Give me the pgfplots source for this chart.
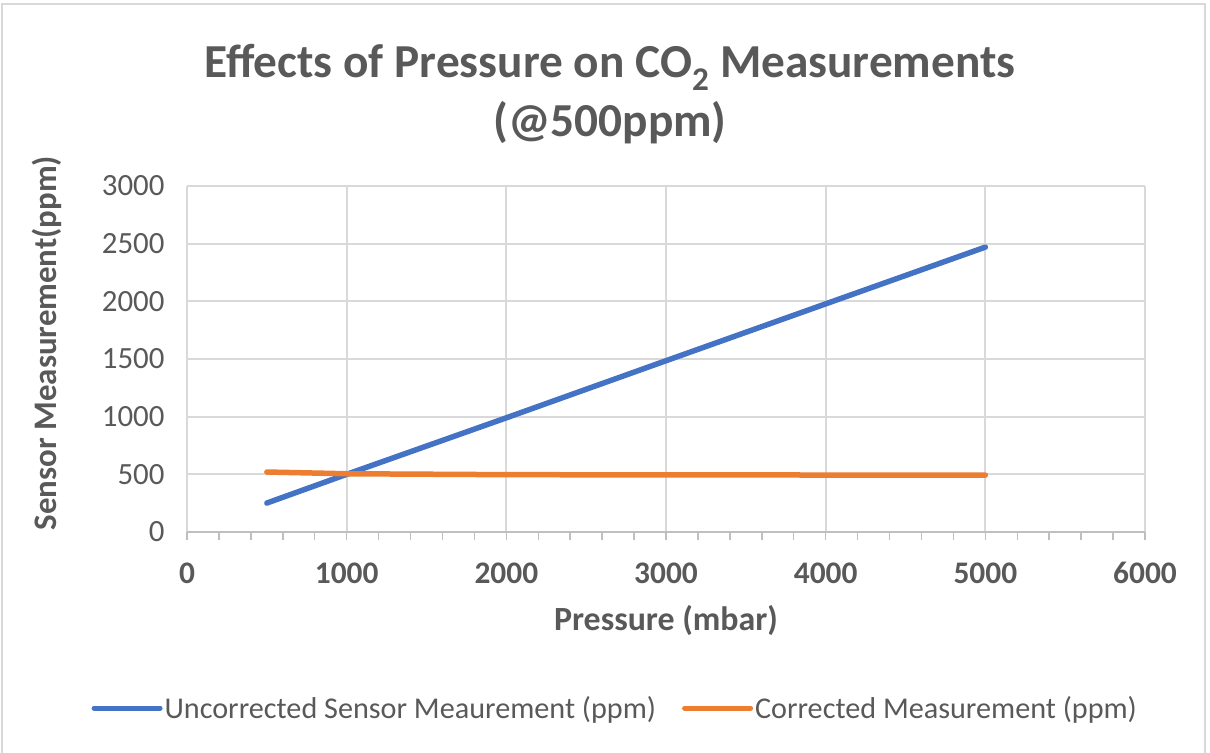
\documentclass[border=0pt]{standalone}
\usepackage{fontspec}
\setmainfont{Carlito}
\usepackage{pgfplots}
\pgfplotsset{compat=1.18}
\definecolor{tblue}{HTML}{4472C4}
\definecolor{torange}{HTML}{ED7D31}
\definecolor{tgray}{HTML}{595959}
\definecolor{gridc}{HTML}{D9D9D9}
\definecolor{axc}{HTML}{BFBFBF}
\begin{document}
\begin{tikzpicture}[x=1bp,y=1bp]
\path[use as bounding box] (0,0) rectangle (1210,753);
\draw[gridc, line width=1.5bp] (2,-5) -- (2,749) -- (1205,749) -- (1205,-5);
\begin{axis}[at={(187bp,221bp)}, anchor=south west, scale only axis,
  width=958bp, height=346bp,
  xmin=0, xmax=6000, ymin=0, ymax=3000,
  xtick={0,1000,...,6000}, ytick={0,500,...,3000},
  minor x tick num=4,
  grid=major, major grid style={gridc, line width=2bp},
  axis x line=bottom, axis y line=left,
  x axis line style={axc, line width=2bp, -},
  y axis line style={draw=none},
  ytick style={draw=none},
  xtick style={axc, line width=1.5bp},
  minor x tick style={axc, line width=1.5bp},
  tick align=outside,
  major tick length=8bp, minor tick length=8bp,
  scaled ticks=false,
  /pgf/number format/assume math mode=true,
  /pgf/number format/1000 sep={},
  xticklabel style={font=\fontsize{31.5}{36}\selectfont\bfseries, text=tgray, yshift=-19bp},
  yticklabel style={font=\fontsize{31}{35}\selectfont, text=tgray, xshift=-11bp},
  legend columns=2,
  legend style={at={(axis description cs:0.447,-0.509)}, anchor=center, draw=none, fill=none,
    font=\fontsize{30.3}{35}\selectfont, text=tgray,
    /tikz/every even column/.append style={column sep=24bp}},
  legend image code/.code={\draw[#1, line width=5bp, line cap=round] (0bp,0bp) -- (66bp,0bp);},
]
\addplot[tblue, line width=5.5bp, line cap=round, line join=round] coordinates {
 (500,251) (1000,500) (2000,990) (3000,1485) (4000,1978) (5000,2470)};
\addlegendentry{Uncorrected Sensor Meaurement (ppm)}
\addplot[torange, line width=5.5bp, line cap=round, line join=round] coordinates {
 (500,520) (1000,505) (2000,497) (3000,495) (4000,494) (5000,493)};
\addlegendentry{Corrected Measurement (ppm)}
\end{axis}
\node[font=\fontsize{47.5}{60}\selectfont\bfseries, text=tgray, align=center] at (610,659)
  {Effects of Pressure on CO\textsubscript{2} Measurements\\(@500ppm)};
\node[font=\fontsize{34}{40}\selectfont\bfseries, text=tgray] at (666,133) {Pressure (mbar)};
\node[font=\fontsize{33}{40}\selectfont\bfseries, text=tgray, rotate=90] at (47,410) {Sensor Measurement(ppm)};
\end{tikzpicture}
\end{document}
